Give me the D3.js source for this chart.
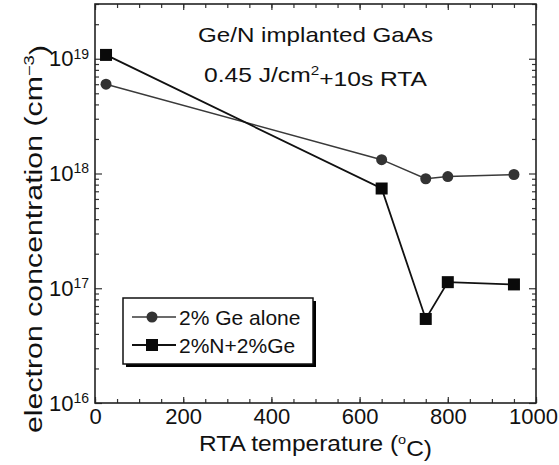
<!DOCTYPE html>
<html>
<head>
<meta charset="utf-8">
<script src="https://cdn.jsdelivr.net/npm/d3@7"></script>
<style>
  body { margin: 0; background: #fff; }
  text { font-family: Arial, "Liberation Sans", sans-serif; fill: #111; }
</style>
</head>
<body>
<script>
// data
var temps = [25, 650, 750, 800, 950];
var geAlone = [6.0e18, 1.32e18, 9.0e17, 9.4e17, 9.8e17];
var nPlusGe = [1.08e19, 7.4e17, 5.4e16, 1.13e17, 1.08e17];
var seriesNames = ["2% Ge alone", "2%N+2%Ge"];
var xTicks = [0, 200, 400, 600, 800, 1000];
var yTicks = [1e16, 1e17, 1e18, 1e19];

var W = 559, H = 465;
var plot = {left: 95, right: 536, top: 4, bottom: 403};

var svg = d3.select("body").append("svg")
    .attr("width", W)
    .attr("height", H);

var x = d3.scaleLinear().domain([0, 1000]).range([plot.left, plot.right]);
var y = d3.scaleLog().domain([1e16, 3e19]).range([plot.bottom, plot.top]);

// minor ticks
var xMinor = d3.range(0, 1001, 50);
var yMinor = [];
[1e16, 1e17, 1e18, 1e19].forEach(function(d) {
  for (var k = 2; k <= 9; k++) if (d * k <= 3e19) yMinor.push(d * k);
});

function strip(g) {
  g.select(".domain").remove();
  g.selectAll("line").attr("stroke", "#333").attr("stroke-width", 1.2);
}

// bottom
svg.append("g").attr("transform", "translate(0," + plot.bottom + ")")
  .call(d3.axisBottom(x).tickValues(xMinor).tickSize(-4).tickFormat(""))
  .call(strip);
svg.append("g").attr("class", "xaxis").attr("transform", "translate(0," + plot.bottom + ")")
  .call(d3.axisBottom(x).tickValues(xTicks).tickSize(-6).tickPadding(5).tickFormat(d3.format("d")))
  .call(strip)
  .selectAll("text").style("font-size", "22px").attr("fill", "#111")
  .attr("dx", function(d) { return d === 1000 ? -3 : 0; });
// top
svg.append("g").attr("transform", "translate(0," + plot.top + ")")
  .call(d3.axisTop(x).tickValues(xMinor).tickSize(-4).tickFormat(""))
  .call(strip);
svg.append("g").attr("transform", "translate(0," + plot.top + ")")
  .call(d3.axisTop(x).tickValues(xTicks).tickSize(-6).tickFormat(""))
  .call(strip);
// left
svg.append("g").attr("transform", "translate(" + plot.left + ",0)")
  .call(d3.axisLeft(y).tickValues(yMinor).tickSize(-4).tickFormat(""))
  .call(strip);
var yAx = svg.append("g").attr("transform", "translate(" + plot.left + ",0)")
  .call(d3.axisLeft(y).tickValues(yTicks).tickSize(-7).tickPadding(6))
  .call(strip);
yAx.selectAll("text")
  .style("font-size", "22px").attr("fill", "#111")
  .each(function(d) {
    var t = d3.select(this).text("10");
    t.append("tspan").attr("dy", "-0.55em").style("font-size", "14px")
      .text(Math.round(Math.log10(d)));
  });
// right
svg.append("g").attr("transform", "translate(" + plot.right + ",0)")
  .call(d3.axisRight(y).tickValues(yMinor).tickSize(-4).tickFormat(""))
  .call(strip);
svg.append("g").attr("transform", "translate(" + plot.right + ",0)")
  .call(d3.axisRight(y).tickValues(yTicks).tickSize(-7).tickFormat(""))
  .call(strip);

// frame
svg.append("rect")
  .attr("x", plot.left).attr("y", plot.top)
  .attr("width", plot.right - plot.left).attr("height", plot.bottom - plot.top)
  .attr("fill", "none").attr("stroke", "#222").attr("stroke-width", 1.6);

// series
var line = d3.line().x(function(d) { return x(d[0]); }).y(function(d) { return y(d[1]); });
var dGe = temps.map(function(t, i) { return [t, geAlone[i]]; });
var dN = temps.map(function(t, i) { return [t, nPlusGe[i]]; });

svg.append("path").datum(dGe).attr("d", line)
  .attr("fill", "none").attr("stroke", "#3a3a3a").attr("stroke-width", 1.5);
svg.append("path").datum(dN).attr("d", line)
  .attr("fill", "none").attr("stroke", "#111").attr("stroke-width", 1.8);

svg.selectAll(".ge").data(dGe).enter().append("circle")
  .attr("cx", function(d) { return x(d[0]); })
  .attr("cy", function(d) { return y(d[1]); })
  .attr("r", 5.5).attr("fill", "#333");
svg.selectAll(".sq").data(dN).enter().append("rect")
  .attr("x", function(d) { return x(d[0]) - 6; })
  .attr("y", function(d) { return y(d[1]) - 6; })
  .attr("width", 12).attr("height", 12).attr("fill", "#0a0a0a");

// title
svg.append("text").attr("x", 198).attr("y", 42)
  .attr("textLength", 235).attr("lengthAdjust", "spacingAndGlyphs")
  .style("font-size", "21px").text("Ge/N implanted GaAs");
var t2 = svg.append("text").attr("x", 204).attr("y", 82)
  .attr("textLength", 223).attr("lengthAdjust", "spacingAndGlyphs")
  .style("font-size", "21px");
t2.append("tspan").text("0.45 J/cm");
t2.append("tspan").attr("dy", "-0.55em").style("font-size", "13px").text("2");
t2.append("tspan").attr("dy", "0.55em").text("+10s RTA");

// axis labels
var xl = svg.append("text").attr("x", 199).attr("y", 451)
  .attr("textLength", 233).attr("lengthAdjust", "spacingAndGlyphs")
  .style("font-size", "22px");
xl.append("tspan").text("RTA temperature (");
xl.append("tspan").attr("dy", "-0.55em").style("font-size", "13px").text("o");
xl.append("tspan").attr("dy", "0.55em").text("C)");

var yl = svg.append("text")
  .attr("transform", "translate(42,433) rotate(-90)")
  .attr("textLength", 388).attr("lengthAdjust", "spacingAndGlyphs")
  .style("font-size", "23px");
yl.append("tspan").text("electron concentration (cm");
yl.append("tspan").attr("dy", "-0.55em").style("font-size", "14px").text("\u22123");
yl.append("tspan").attr("dy", "0.55em").text(")");

// legend
var lg = svg.append("g");
lg.append("rect").attr("x", 126).attr("y", 301).attr("width", 190).attr("height", 66).attr("fill", "#000");
lg.append("rect").attr("x", 123).attr("y", 298).attr("width", 190).attr("height", 66)
  .attr("fill", "#fff").attr("stroke", "#111").attr("stroke-width", 1.5);
var rows = [317, 345];
rows.forEach(function(ry, i) {
  lg.append("line").attr("x1", 132).attr("x2", 176).attr("y1", ry).attr("y2", ry)
    .attr("stroke", i ? "#111" : "#3a3a3a").attr("stroke-width", i ? 1.8 : 1.5);
  if (i === 0) lg.append("circle").attr("cx", 152).attr("cy", ry).attr("r", 5.5).attr("fill", "#333");
  else lg.append("rect").attr("x", 146).attr("y", ry - 6).attr("width", 12).attr("height", 12).attr("fill", "#0a0a0a");
  lg.append("text").attr("x", 179).attr("y", ry + 7.5).style("font-size", "21px").text(seriesNames[i]);
});
</script>
</body>
</html>
